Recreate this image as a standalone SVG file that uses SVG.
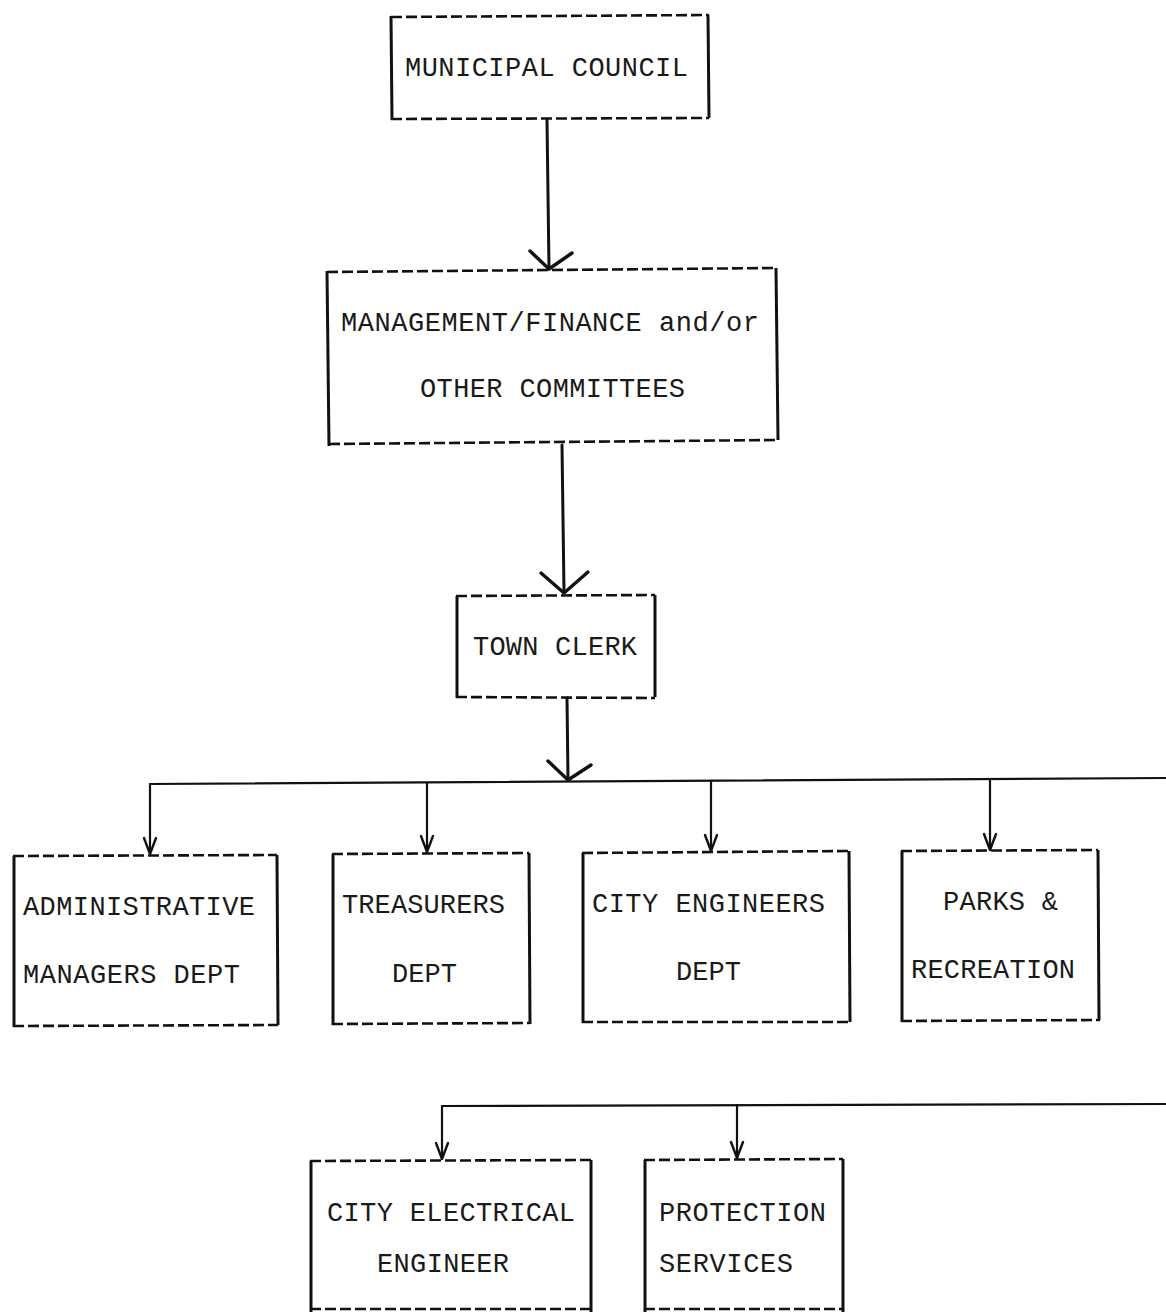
<svg xmlns="http://www.w3.org/2000/svg" width="1166" height="1312" viewBox="0 0 1166 1312">
  <style>
    .dash { fill: none; stroke: #111; stroke-width: 2.6; stroke-dasharray: 11 4; }
    .side { fill: none; stroke: #111; stroke-width: 3; }
    .lbl { font-family: "Liberation Mono", "Courier New", monospace; font-size: 27px; fill: #1a1a1a; }
    .wire { fill: none; stroke: #111; stroke-width: 3; stroke-linecap: round; }
    .thin { fill: none; stroke: #111; stroke-width: 2.2; stroke-linecap: round; }
    .head { fill: none; stroke: #111; stroke-width: 3.4; stroke-linecap: round; stroke-linejoin: round; }
    .headsm { fill: none; stroke: #111; stroke-width: 2.4; stroke-linecap: round; stroke-linejoin: round; }
  </style>
  <rect width="1166" height="1312" fill="#ffffff"/>

  <!-- connectors -->
  <g id="connectors">
    <!-- council to committees -->
    <line class="wire" x1="547" y1="120" x2="549" y2="268"/>
    <polyline class="head" points="530,251 549,269 572,253"/>
    <!-- committees to town clerk -->
    <line class="wire" x1="562" y1="445" x2="564" y2="592"/>
    <polyline class="head" points="541,573 564,593 588,572"/>
    <!-- town clerk to department bus -->
    <line class="wire" x1="567" y1="698" x2="568" y2="779"/>
    <polyline class="head" points="548,761 568,780 591,765"/>
    <!-- upper bus -->
    <line class="thin" x1="150" y1="784" x2="1166" y2="778"/>
    <line class="thin" x1="150" y1="784" x2="150" y2="853"/>
    <polyline class="headsm" points="144,838 150,854 156,838"/>
    <line class="thin" x1="427" y1="783" x2="427" y2="851"/>
    <polyline class="headsm" points="421,836 427,852 433,836"/>
    <line class="thin" x1="711" y1="781" x2="711" y2="850"/>
    <polyline class="headsm" points="705,835 711,851 717,835"/>
    <line class="thin" x1="990" y1="780" x2="990" y2="849"/>
    <polyline class="headsm" points="984,834 990,850 996,834"/>
    <!-- lower bus -->
    <line class="thin" x1="442" y1="1106" x2="1166" y2="1104"/>
    <line class="thin" x1="442" y1="1106" x2="442" y2="1158"/>
    <polyline class="headsm" points="436,1143 442,1159 448,1143"/>
    <line class="thin" x1="737" y1="1105" x2="737" y2="1157"/>
    <polyline class="headsm" points="731,1142 737,1158 743,1142"/>
  </g>

  <g id="municipal-council">
    <line class="dash" x1="391" y1="17" x2="709" y2="15"/>
    <line class="dash" x1="391" y1="119" x2="709" y2="118"/>
    <line class="side" x1="391" y1="16" x2="392" y2="120"/>
    <line class="side" x1="708" y1="15" x2="709" y2="118"/>
    <text class="lbl" x="405" y="76" textLength="283" lengthAdjust="spacing">MUNICIPAL COUNCIL</text>
  </g>

  <g id="committees">
    <line class="dash" x1="327" y1="272" x2="777" y2="268"/>
    <line class="dash" x1="329" y1="444" x2="778" y2="440"/>
    <line class="side" x1="327" y1="271" x2="329" y2="446"/>
    <line class="side" x1="776" y1="268" x2="778" y2="440"/>
    <text class="lbl" x="341" y="331" textLength="418" lengthAdjust="spacing">MANAGEMENT/FINANCE and/or</text>
    <text class="lbl" x="420" y="397" textLength="265" lengthAdjust="spacing">OTHER COMMITTEES</text>
  </g>

  <g id="town-clerk">
    <line class="dash" x1="456" y1="596" x2="655" y2="595"/>
    <line class="dash" x1="456" y1="697" x2="655" y2="698"/>
    <line class="side" x1="457" y1="596" x2="457" y2="698"/>
    <line class="side" x1="655" y1="595" x2="655" y2="697"/>
    <text class="lbl" x="473" y="655" textLength="164" lengthAdjust="spacing">TOWN CLERK</text>
  </g>

  <g id="administrative">
    <line class="dash" x1="13" y1="856" x2="277" y2="855"/>
    <line class="dash" x1="13" y1="1026" x2="278" y2="1025"/>
    <line class="side" x1="14" y1="856" x2="14" y2="1027"/>
    <line class="side" x1="277" y1="855" x2="278" y2="1025"/>
    <text class="lbl" x="23" y="915" textLength="232" lengthAdjust="spacing">ADMINISTRATIVE</text>
    <text class="lbl" x="23" y="983" textLength="217" lengthAdjust="spacing">MANAGERS DEPT</text>
  </g>

  <g id="treasurers">
    <line class="dash" x1="332" y1="854" x2="529" y2="853"/>
    <line class="dash" x1="332" y1="1024" x2="530" y2="1023"/>
    <line class="side" x1="333" y1="854" x2="333" y2="1025"/>
    <line class="side" x1="529" y1="853" x2="530" y2="1024"/>
    <text class="lbl" x="342" y="913" textLength="163" lengthAdjust="spacing">TREASURERS</text>
    <text class="lbl" x="392" y="982" textLength="65" lengthAdjust="spacing">DEPT</text>
  </g>

  <g id="city-engineers">
    <line class="dash" x1="582" y1="853" x2="849" y2="851"/>
    <line class="dash" x1="582" y1="1022" x2="850" y2="1022"/>
    <line class="side" x1="583" y1="853" x2="583" y2="1023"/>
    <line class="side" x1="849" y1="851" x2="850" y2="1022"/>
    <text class="lbl" x="592" y="912" textLength="233" lengthAdjust="spacing">CITY ENGINEERS</text>
    <text class="lbl" x="676" y="980" textLength="65" lengthAdjust="spacing">DEPT</text>
  </g>

  <g id="parks-recreation">
    <line class="dash" x1="901" y1="851" x2="1098" y2="850"/>
    <line class="dash" x1="901" y1="1021" x2="1100" y2="1020"/>
    <line class="side" x1="902" y1="851" x2="902" y2="1022"/>
    <line class="side" x1="1098" y1="850" x2="1099" y2="1020"/>
    <text class="lbl" x="943" y="910" textLength="115" lengthAdjust="spacing">PARKS &amp;</text>
    <text class="lbl" x="911" y="978" textLength="164" lengthAdjust="spacing">RECREATION</text>
  </g>

  <g id="city-electrical">
    <line class="dash" x1="310" y1="1161" x2="591" y2="1160"/>
    <line class="dash" x1="310" y1="1309" x2="591" y2="1309"/>
    <line class="side" x1="311" y1="1161" x2="311" y2="1312"/>
    <line class="side" x1="591" y1="1160" x2="591" y2="1312"/>
    <text class="lbl" x="327" y="1221" textLength="248" lengthAdjust="spacing">CITY ELECTRICAL</text>
    <text class="lbl" x="377" y="1272" textLength="132" lengthAdjust="spacing">ENGINEER</text>
  </g>

  <g id="protection-services">
    <line class="dash" x1="644" y1="1160" x2="843" y2="1159"/>
    <line class="dash" x1="644" y1="1309" x2="843" y2="1309"/>
    <line class="side" x1="645" y1="1160" x2="645" y2="1312"/>
    <line class="side" x1="843" y1="1159" x2="843" y2="1312"/>
    <text class="lbl" x="659" y="1221" textLength="167" lengthAdjust="spacing">PROTECTION</text>
    <text class="lbl" x="659" y="1272" textLength="134" lengthAdjust="spacing">SERVICES</text>
  </g>
</svg>
